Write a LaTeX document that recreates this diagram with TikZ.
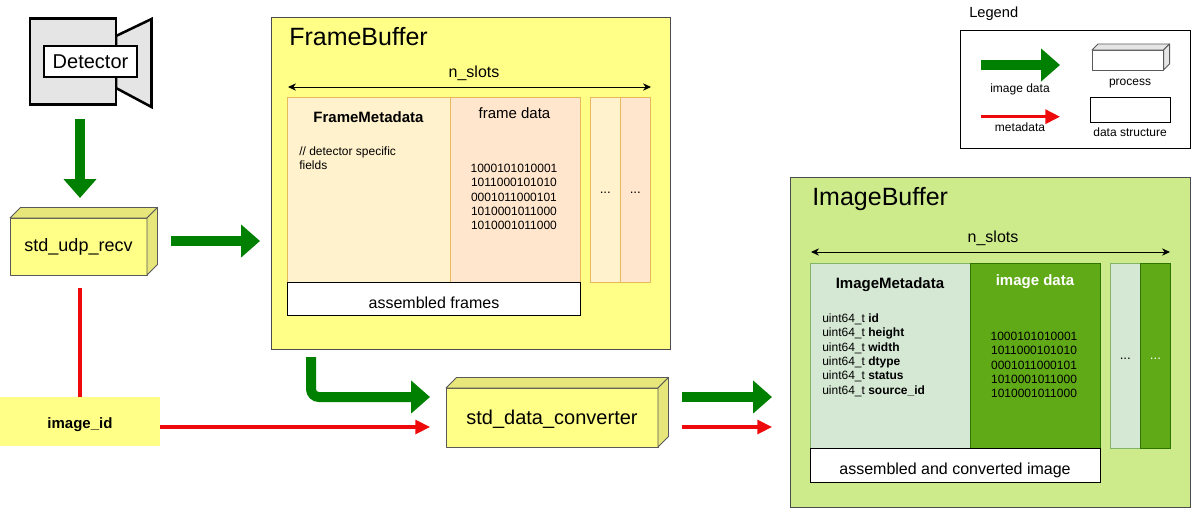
\documentclass[tikz,border=0pt]{standalone}
\usepackage{fontspec}
\setmainfont{Liberation Sans}
\usetikzlibrary{arrows.meta}

\definecolor{fbyellow}{HTML}{FFFF88}
\definecolor{fbshade}{HTML}{E6E67A}
\definecolor{ibgreen}{HTML}{CDEB8B}
\definecolor{edgegrey}{HTML}{4A4D50}
\definecolor{dataarrow}{HTML}{008000}
\definecolor{metaarrow}{HTML}{EE0A0A}
\definecolor{framemeta}{HTML}{FFF2CC}
\definecolor{framedata}{HTML}{FFE6CC}
\definecolor{frameedge}{HTML}{E5B95C}
\definecolor{imagemeta}{HTML}{D5E8D4}
\definecolor{imagemetaedge}{HTML}{82B366}
\definecolor{imagedata}{HTML}{60A917}
\definecolor{imagedataedge}{HTML}{2D7600}

% box size in pixels of the picture
\tikzset{
	boxsize/.style 2 args={minimum width=#1*0.75pt, minimum height=#2*0.75pt},
	txt/.style={inner sep=0, align=center, font=\fontsize{#1}{10.75}\selectfont},
}

% top and side face of a process box: node, depth, fill
\newcommand{\cuboidbox}[3]{
	\draw[cuboid, fill=#3] (#1.north west) -- ([shift={(#2,-#2)}]#1.north west) -- ([shift={(#2,-#2)}]#1.north east) -- (#1.north east) -- cycle;
	\draw[cuboid, fill=#3] (#1.north east) -- ([shift={(#2,-#2)}]#1.north east) -- ([shift={(#2,-#2)}]#1.south east) -- (#1.south east) -- cycle;
}
\newcommand{\slotdots}{\raisebox{-3pt}[0pt][0pt]{...}}

\begin{document}
\begin{tikzpicture}[x=0.75pt, y=-0.75pt]
	\tikzstyle{rect}=[rectangle,draw,inner sep=0,outer sep=0,line width=0.6pt]
	\tikzstyle{cuboid}=[draw=black!65,line width=0.7pt,line join=round]
	\tikzstyle{thickbox}=[rect,draw=black,line width=1.9pt]
	\tikzstyle{buffer}=[rect,draw=edgegrey,line width=0.7pt]
	\tikzstyle{framecell}=[rect,draw=frameedge,line width=0.7pt]
	\tikzstyle{outline}=[rect,draw=black,fill=white,line width=0.7pt]
	\tikzstyle{dataflow}=[dataarrow,line width=7.5pt,-{Triangle[length=14.25pt,width=24pt]}]
	\tikzstyle{metaflow}=[metaarrow,line width=2.3pt,-{Triangle[length=11pt,width=10.5pt]}]
	\tikzstyle{span}=[black,line width=0.7pt,{Stealth[length=6pt,width=5.5pt]}-{Stealth[length=6pt,width=5.5pt]}]

	\useasboundingbox (0, 0) rectangle (1192, 508);

	% detector
	\draw[black, line width=1.9pt, fill=black!10, line join=miter] (116, 36) -- (151.5, 19) -- (151.5, 107) -- (116, 88) -- cycle;
	\node [thickbox, fill=black!10, boxsize={86}{86}] (body) at (73, 61.5) {};
	\node [thickbox, fill=white, boxsize={93}{31}, txt=15] (detector) at (90.5, 61.5) {Detector};

	% processes
	\node [rect, cuboid, fill=fbyellow, boxsize={137}{57}, txt=13.5] (recv) at (78.5, 246.5) {std\_udp\_recv};
	\cuboidbox{recv}{10.5}{fbshade}
	\node [rect, cuboid, fill=fbyellow, boxsize={212}{59}] (converter) at (552, 417.5) {};
	\cuboidbox{converter}{10.5}{fbshade}
	\node [txt=15] (convertertext) at (552, 419) {std\_data\_converter};
	\node [rect, fill=fbyellow, draw=none, boxsize={160}{49}] (imageid) at (80, 421.5) {};
	\node [txt=11.25] (imageidtext) at (80, 424.5) {\textbf{image\_id}};

	% frame buffer
	\node [buffer, fill=fbyellow, boxsize={399}{332}] (fb) at (470.5, 183) {};
	\node [txt=18.75, anchor=west] (fbtitle) at (289, 37) {FrameBuffer};
	\node [txt=12] (fbslots) at (474, 73) {n\_slots};
	\coordinate (fbleft) at (288, 87);
	\coordinate (fbright) at (651, 87);
	\draw[span] (fbleft) -- (fbright);
	\node [framecell, fill=framemeta, boxsize={163}{185}] (fbmeta) at (368.8, 189.8) {};
	\node [framecell, fill=framedata, boxsize={130.4}{185}] (fbdata) at (515.5, 189.8) {};
	\node [framecell, fill=framemeta, boxsize={30}{185}, txt=10] (fbmetanext) at (605.3, 189.8) {\slotdots};
	\node [framecell, fill=framedata, boxsize={30}{185}, txt=10] (fbdatanext) at (635.3, 189.8) {\slotdots};
	\node [outline, boxsize={293.4}{33}] (fbassembled) at (434, 298.5) {};
	\node [txt=12] (fbassembledtext) at (434, 302.5) {assembled frames};
	\node [txt=11.25] (fbmetatitle) at (368.5, 117) {\textbf{FrameMetadata}};
	\node [txt=9, align=left, anchor=north west] (fbfields) at (299, 146.5) {// detector specific\\fields};
	\node [txt=11.25] (fbdatatitle) at (514.5, 113) {frame data};
	\node [txt=9] (fbbits) at (514, 197) {1000101010001\\1011000101010\\0001011000101\\1010001011000\\1010001011000};

	% image buffer
	\node [buffer, fill=ibgreen, boxsize={400.5}{330}] (ib) at (990.3, 342) {};
	\node [txt=18.75, anchor=west] (ibtitle) at (812, 199) {ImageBuffer};
	\node [txt=12] (ibslots) at (993, 238) {n\_slots};
	\coordinate (ibleft) at (811, 252);
	\coordinate (ibright) at (1170, 252);
	\draw[span] (ibleft) -- (ibright);
	\node [rect, draw=imagemetaedge, fill=imagemeta, boxsize={160}{185}] (immeta) at (890.3, 355.8) {};
	\node [rect, draw=imagedataedge, fill=imagedata, boxsize={130.4}{185}] (imdata) at (1035.5, 355.8) {};
	\node [rect, draw=imagemetaedge, fill=imagemeta, boxsize={30}{185}, txt=10] (immetanext) at (1125.3, 355.8) {\slotdots};
	\node [rect, draw=imagedataedge, fill=imagedata, text=white, boxsize={30.4}{185}, txt=10] (imdatanext) at (1155.5, 355.8) {\slotdots};
	\node [outline, boxsize={290.4}{33.7}] (imassembled) at (955.5, 465.2) {};
	\node [txt=12] (imassembledtext) at (955, 470) {assembled and converted image};
	\node [txt=11.25] (immetatitle) at (890, 285) {\textbf{ImageMetadata}};
	\node [txt=9, align=left, anchor=north west] (imfields) at (822, 313.5) {uint64\_t \textbf{id}\\uint64\_t \textbf{height}\\uint64\_t \textbf{width}\\uint64\_t \textbf{dtype}\\uint64\_t \textbf{status}\\uint64\_t \textbf{source\_id}};
	\node [txt=11.25, text=white] (imdatatitle) at (1035, 282) {\textbf{image data}};
	\node [txt=9] (imbits) at (1034, 365) {1000101010001\\1011000101010\\0001011000101\\1010001011000\\1010001011000};

	% legend
	\node [txt=11, anchor=west] (legendtitle) at (969, 14) {Legend};
	\node [outline, boxsize={230.4}{118}] (legend) at (1075.5, 89.3) {};
	\node [rect, cuboid, fill=white, boxsize={71.5}{20}] (legendproc) at (1127.8, 60) {};
	\cuboidbox{legendproc}{6}{black!10}
	\node [txt=9] (legendproctext) at (1130, 83.5) {process};
	\node [rect, draw=black, fill=white, line width=0.7pt, boxsize={80}{25.3}] (legendstruct) at (1130.3, 109.7) {};
	\node [txt=9] (legendstructtext) at (1130, 132) {data structure};
	\coordinate (legenddatafrom) at (980.5, 65);
	\coordinate (legenddatato) at (1060, 65);
	\draw[dataflow, line width=8.2pt] (legenddatafrom) -- (legenddatato);
	\node [txt=9] (legenddatatext) at (1020, 89) {image data};
	\coordinate (legendmetafrom) at (980.5, 116.7);
	\coordinate (legendmetato) at (1060, 116.7);
	\draw[metaflow] (legendmetafrom) -- (legendmetato);
	\node [txt=9] (legendmetatext) at (1020, 127) {metadata};

	% connectors
	\coordinate (detout) at (80, 119);
	\coordinate (recvin) at (80, 198);
	\coordinate (recvout) at (171, 241);
	\coordinate (fbin) at (260, 241);
	\coordinate (recvbottom) at (80, 288);
	\coordinate (fbout) at (311, 357);
	\coordinate (convdata) at (430, 397);
	\coordinate (convmeta) at (430, 427);
	\coordinate (convdataout) at (682, 397);
	\coordinate (ibdata) at (772, 397);
	\coordinate (convmetaout) at (682, 427);
	\coordinate (ibmeta) at (772, 427);
	\draw[dataflow] (detout) -- (recvin);
	\draw[dataflow] (recvout) -- (fbin);
	\draw[metaarrow, line width=2.3pt] (recvbottom) -- (imageid.north);
	\draw[metaflow] (imageid.east |- convmeta) -- (convmeta);
	\draw[dataflow, rounded corners=6pt] (fbout) |- (convdata);
	\draw[dataflow] (convdataout) -- (ibdata);
	\draw[metaflow] (convmetaout) -- (ibmeta);
\end{tikzpicture}
\end{document}
